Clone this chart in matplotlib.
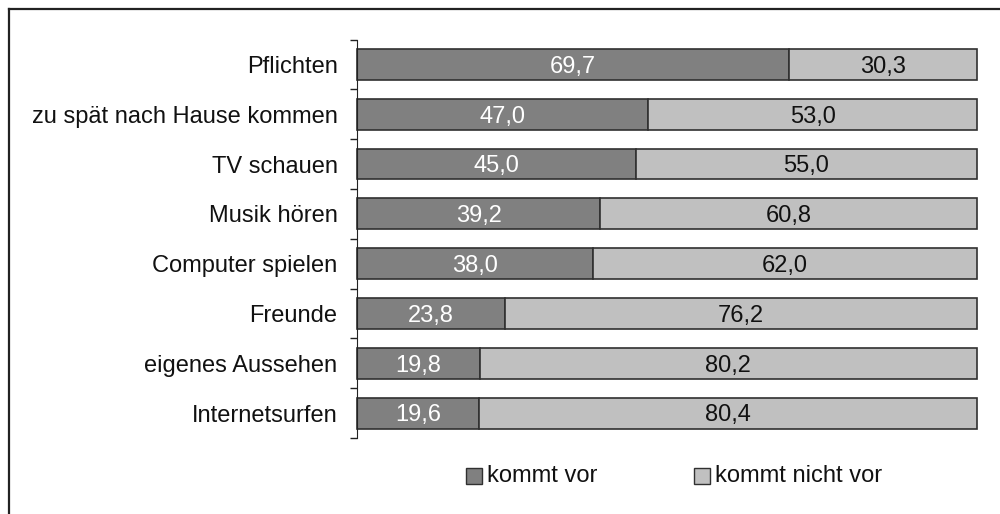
import numpy as np
import matplotlib
matplotlib.use("Agg")
import matplotlib.pyplot as plt
from matplotlib.lines import Line2D
from matplotlib.patches import Rectangle

plt.rcParams['font.family'] = ['Liberation Sans', 'DejaVu Sans']

categories = ["Pflichten", "zu spät nach Hause kommen", "TV schauen", "Musik hören",
              "Computer spielen", "Freunde", "eigenes Aussehen", "Internetsurfen"]
kommt_vor = [69.7, 47.0, 45.0, 39.2, 38.0, 23.8, 19.8, 19.6]
kommt_nicht_vor = [30.3, 53.0, 55.0, 60.8, 62.0, 76.2, 80.2, 80.4]
series_names = ["kommt vor", "kommt nicht vor"]

dark = "#808080"
light = "#c0c0c0"
edge = "#303030"
W, H = 1000, 514

fig = plt.figure(figsize=(10, 5.14), dpi=100)
ax = fig.add_axes([357 / W, 1 - 438 / H, 620 / W, (438 - 39.5) / H])

y = np.arange(len(categories))
h = 0.62
b1 = ax.barh(y, kommt_vor, height=h, color=dark, edgecolor=edge, linewidth=1.2)
b2 = ax.barh(y, kommt_nicht_vor, left=kommt_vor, height=h, color=light, edgecolor=edge,
             linewidth=1.2)
for p in list(b1) + list(b2):
    p.set_clip_on(False)

# value labels, digits centred vertically on the bar
for i in range(len(categories)):
    a = kommt_vor[i]
    b = kommt_nicht_vor[i]
    ax.annotate(f"{a:.1f}".replace(".", ","), xy=(a / 2, y[i]), xytext=(0, -6),
                textcoords="offset points", ha="center", va="baseline",
                color="white", fontsize=17)
    ax.annotate(f"{b:.1f}".replace(".", ","), xy=(a + b / 2, y[i]), xytext=(0, -6),
                textcoords="offset points", ha="center", va="baseline",
                color="#111111", fontsize=17)

ax.set_xlim(0, 100)
ax.set_ylim(len(categories) - 0.5, -0.5)
ax.set_yticks(y)
ax.set_yticklabels(categories, fontsize=17, color="#111111")
ax.set_yticks(np.arange(len(categories) + 1) - 0.5, minor=True)
ax.tick_params(axis="y", which="major", length=0, pad=14)
ax.tick_params(axis="y", which="minor", length=5, width=1, color="#222222", direction="out")
ax.set_xticks([])
for s in ["top", "right", "bottom"]:
    ax.spines[s].set_visible(False)
ax.spines["left"].set_color("#222222")

# legend drawn by hand
leg_y = 1 - 476 / H
sq_w, sq_h = 16 / W, 16 / H
for x0, c, name in [(466, dark, series_names[0]), (694, light, series_names[1])]:
    fig.add_artist(Rectangle((x0 / W, leg_y - sq_h / 2), sq_w, sq_h, facecolor=c,
                             edgecolor=edge, linewidth=1, transform=fig.transFigure))
    fig.text((x0 + 21) / W, leg_y, name, ha="left", va="center", fontsize=17,
             color="#111111")

# outer frame (only top and left edges fall inside the image)
fig.add_artist(Line2D([8.5 / W, 8.5 / W], [0, 1 - 8.5 / H], color="#222222", linewidth=1.6,
                      transform=fig.transFigure))
fig.add_artist(Line2D([8.5 / W, 1], [1 - 8.5 / H, 1 - 8.5 / H], color="#222222",
                      linewidth=1.6, transform=fig.transFigure))

fig.savefig("out.png", dpi=100)
